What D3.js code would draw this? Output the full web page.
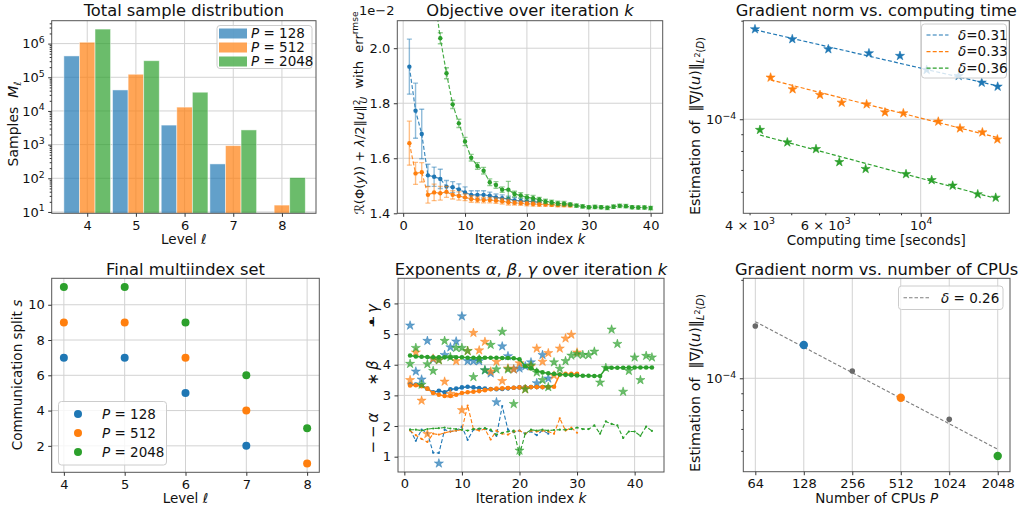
<!DOCTYPE html>
<html><head><meta charset="utf-8">
<script src="https://cdn.jsdelivr.net/npm/d3@7"></script>
<style>body{margin:0;background:#fff}svg{font-family:"DejaVu Sans",sans-serif}</style>
</head><body>
<script>
// ---------------- DATA ----------------
// Panel 1: total sample distribution
const levels = [4, 5, 6, 7, 8];
const samplesP128  = [4.3e5, 4.2e4, 3.8e3, 267, null];
const samplesP512  = [1.1e6, 1.23e5, 1.3e4, 930, 16];
const samplesP2048 = [2.7e6, 3.1e5, 3.6e4, 2730, 105];
const procLabels = ["128", "512", "2048"];

// Panel 2: objective over iteration (units of 1e-2), first k of each series
const objBlueStart = 1;
const objBlue    = [1.933,1.773,1.688,1.538,1.533,1.525,1.497,1.495,1.487,1.476,1.467,1.467,1.467,1.464,1.458,1.455,1.452,1.447,1.445,1.443,1.442,1.440];
const objBlueErr = [0.10,0.10,0.09,0.04,0.035,0.035,0.022,0.02,0.02,0.02,0.015,0.015,0.015,0.013,0.012,0.012,0.01,0.01,0.01,0.01,0.008,0.008];
const objOrangeStart = 1;
const objOrange    = [1.655,1.545,1.549,1.467,1.476,1.473,1.478,1.467,1.463,1.458,1.452,1.449,1.448,1.448,1.446,1.444,1.440,1.438,1.437,1.435,1.434,1.433,1.432,1.431,1.430,1.430,1.429];
const objOrangeErr = [0.08,0.04,0.035,0.03,0.03,0.025,0.02,0.015,0.015,0.012,0.012,0.01,0.01,0.01,0.01,0.01,0.01,0.008,0.008,0.008,0.008,0.008,0.006,0.006,0.006,0.006,0.006];
const objGreenStart = 5;
const objGreen    = [2.20,2.036,1.909,1.796,1.727,1.661,1.602,1.572,1.555,1.513,1.503,1.486,1.486,1.470,1.465,1.458,1.455,1.450,1.443,1.440,1.436,1.435,1.432,1.428,1.425,1.422,1.423,1.422,1.420,1.424,1.427,1.426,1.422,1.421,1.421,1.419];
const objGreenErr = [0.02,0.02,0.02,0.015,0.015,0.015,0.012,0.012,0.012,0.012,0.012,0.01,0.03,0.01,0.01,0.01,0.01,0.008,0.008,0.008,0.008,0.008,0.006,0.006,0.006,0.006,0.006,0.006,0.006,0.006,0.006,0.006,0.006,0.006,0.006,0.006];

// Panel 3: gradient norm vs computing time
const timeBlue   = [4118,5028,6098,7580,8950,10325,12255,13865,15100];
const gradBlue   = [1.884e-4,1.757e-4,1.637e-4,1.591e-4,1.562e-4,1.415e-4,1.356e-4,1.294e-4,1.258e-4];
const timeOrange = [4477,5037,5833,6551,7486,8259,9112,10987,12343,13913,15077];
const gradOrange = [1.341e-4,1.235e-4,1.187e-4,1.124e-4,1.111e-4,1.050e-4,1.043e-4,0.984e-4,0.938e-4,0.912e-4,0.868e-4];
const timeGreen  = [4229,4896,5709,6468,7447,9244,10605,11867,13572,14942];
const gradGreen  = [0.928e-4,0.850e-4,0.811e-4,0.740e-4,0.705e-4,0.680e-4,0.652e-4,0.627e-4,0.590e-4,0.576e-4];
const fitTimeBlue = [4118,15100],   fitGradBlue = [1.876e-4,1.264e-4];
const fitTimeOrange = [4477,15077], fitGradOrange = [1.319e-4,0.879e-4];
const fitTimeGreen = [4229,14942],  fitGradGreen = [0.895e-4,0.573e-4];
const deltaTime = ["0.31","0.33","0.36"];

// Panel 4: final multiindex set
const splitLevels128 = [4,5,6,7],     split128  = [7,7,5,2];
const splitLevels512 = [4,5,6,7,8],   split512  = [9,9,7,4,1];
const splitLevels2048 = [4,5,6,7,8],  split2048 = [11,11,9,6,3];

// Panel 5: exponents (k starts at 1)
const alphaBlue  = [1.88,1.52,1.88,1.78,1.13,1.12,1.88,1.82,1.85,1.98,1.55,1.88,1.90,1.90,1.85,1.68,2.65,1.88,1.80,1.85,1.75,1.82,1.70,1.86,1.75];
const betaBlue   = [5.28,3.78,3.52,4.78,4.18,0.78,4.32,4.57,4.76,5.58,4.12,4.12,4.12,3.82,3.72,2.78,4.60,4.28,3.85,3.88,3.95,4.08,3.40,4.32,3.55];
const gammaBlue  = [3.36,3.35,3.33,3.22,3.10,3.15,3.10,3.20,3.22,3.26,3.28,3.26,3.24,3.22,3.21,3.20,3.21,3.23,3.25,3.26,3.27,3.27,3.27,3.27,3.27];
const alphaOrange = [1.85,1.70,1.58,1.48,1.75,1.72,1.78,1.82,1.85,1.88,2.67,1.90,1.85,1.90,1.56,1.85,1.75,1.72,1.82,1.85,1.75,1.85,1.82,1.85,1.82,1.75,2.25,1.85,1.95,1.78];
const betaOrange  = [3.50,4.40,2.83,1.74,4.20,4.15,3.45,3.05,4.12,2.52,4.45,5.04,4.47,4.75,3.78,4.10,3.47,3.88,3.85,4.05,3.20,3.95,4.53,4.10,4.38,3.65,4.53,4.86,4.98,4.40];
const gammaOrange = [3.32,3.33,3.30,3.22,3.08,3.02,2.98,2.98,3.02,3.08,3.10,3.12,3.14,3.17,3.20,3.22,3.23,3.24,3.25,3.26,3.26,3.27,3.27,3.27,3.27,3.28,3.68,3.70,3.70,3.70];
const alphaGreen = [1.88,1.88,1.85,1.90,1.92,1.93,1.95,1.92,1.90,1.88,1.85,1.90,1.92,1.93,1.88,1.72,1.78,1.82,1.85,1.07,1.75,1.88,1.85,1.88,1.85,1.87,1.88,1.88,1.90,1.95,1.90,1.90,2.02,1.75,2.15,2.07,2.02,1.61,1.82,1.82,1.68,1.98,1.84];
const betaGreen  = [4.03,4.55,3.35,4.02,3.80,4.15,4.78,4.25,4.55,4.55,4.45,3.60,4.18,3.82,4.65,3.85,5.08,3.85,2.72,1.20,3.20,3.98,3.75,3.50,3.27,4.08,3.87,4.12,4.30,4.35,4.32,4.32,4.43,3.42,3.90,5.15,4.68,3.12,3.80,4.24,3.50,4.29,4.24];
const gammaGreen = [4.30,4.27,4.26,4.25,4.24,4.24,4.24,4.24,4.24,4.24,4.23,4.23,4.23,4.23,4.23,4.23,4.22,4.22,4.21,4.18,3.95,3.88,3.80,3.75,3.72,3.70,3.68,3.67,3.66,3.65,3.64,3.64,3.63,3.63,3.88,3.90,3.90,3.90,3.91,3.91,3.91,3.91,3.91];

// Panel 6: gradient norm vs CPUs
const cpus    = [64,128,256,512,1024,2048];
const gradCpu = [1.445e-4,1.264e-4,1.053e-4,0.872e-4,0.749e-4,0.5785e-4];
const fitCpuX = [64,2048], fitCpuY = [1.49e-4,0.6065e-4];
const deltaCpu = "0.26";

// ---------------- SETUP ----------------
const W = 1023, H = 512;
const NB = "\u00a0";
const svg = d3.select("body").append("svg").attr("width", W).attr("height", H);
svg.append("rect").attr("width", W).attr("height", H).attr("fill", "#fff");
const COL = ["#1f77b4", "#ff7f0e", "#2ca02c"];
const GRID = "#d2d2d2", SPINE = "#555", TXT = "#111";
const TICKFS = 13, LABFS = 13.5, TITFS = 16.3, LEGFS = 13.5;

const P1 = {l:51.7, r:316, t:20.7, b:213.3};
const P2 = {l:397.3, r:662.7, t:20.7, b:213.3};
const P3 = {l:743.3, r:1009.3, t:20.7, b:213.3};
const P4 = {l:51.7, r:319.3, t:278.3, b:472.3};
const P5 = {l:398, r:664, t:278.3, b:472};
const P6 = {l:743.3, r:1010, t:278.3, b:471.7};

function clip(box, id) {
  svg.append("clipPath").attr("id", id).append("rect")
    .attr("x", box.l).attr("y", box.t).attr("width", box.r - box.l).attr("height", box.b - box.t);
  return svg.append("g").attr("clip-path", `url(#${id})`);
}
function spines(box) {
  svg.append("rect").attr("x", box.l).attr("y", box.t).attr("width", box.r - box.l).attr("height", box.b - box.t)
    .attr("fill", "none").attr("stroke", SPINE).attr("stroke-width", 1);
}
function gridX(box, s, vals) {
  svg.append("g").selectAll("line").data(vals).join("line")
    .attr("x1", d => s(d)).attr("x2", d => s(d)).attr("y1", box.t).attr("y2", box.b)
    .attr("stroke", GRID).attr("stroke-width", 1);
}
function gridY(box, s, vals) {
  svg.append("g").selectAll("line").data(vals).join("line")
    .attr("y1", d => s(d)).attr("y2", d => s(d)).attr("x1", box.l).attr("x2", box.r)
    .attr("stroke", GRID).attr("stroke-width", 1);
}
function styleAxis(g) {
  g.select(".domain").remove();
  g.attr("font-family", "DejaVu Sans").attr("font-size", TICKFS);
  g.selectAll(".tick line").attr("stroke", "#333");
  g.selectAll(".tick text").attr("fill", TXT);
}
function axisB(box, s, vals, fmt, size = 3.5, pad = 3.5) {
  const g = svg.append("g").attr("transform", `translate(0,${box.b})`)
    .call(d3.axisBottom(s).tickValues(vals).tickSize(size).tickPadding(pad).tickFormat(() => ""));
  styleAxis(g);
  if (fmt) g.selectAll(".tick text").each(function (d) { fmt(d3.select(this), d); });
  return g;
}
function axisL(box, s, vals, fmt, size = 3.5, pad = 3.5) {
  const g = svg.append("g").attr("transform", `translate(${box.l},0)`)
    .call(d3.axisLeft(s).tickValues(vals).tickSize(size).tickPadding(pad).tickFormat(() => ""));
  styleAxis(g);
  if (fmt) g.selectAll(".tick text").each(function (d) { fmt(d3.select(this), d); });
  return g;
}
function plain(t, d) { t.text(String(d)); }
function sup(t, base, ex) {
  t.text(null);
  t.append("tspan").text(base);
  t.append("tspan").attr("dy", "-0.55em").attr("font-size", "72%").text(ex);
}
// rich text: parts = [text, style, dy, font-size, dx]
function rich(t, parts) {
  parts.forEach(p => {
    const ts = t.append("tspan").text(p[0]);
    const st = p[1] || "";
    if (st.includes("i")) ts.attr("font-style", "italic");
    if (p[2] !== undefined && p[2] !== null) ts.attr("dy", p[2]);
    if (p[3] !== undefined && p[3] !== null) ts.attr("font-size", p[3]);
    if (p[4] !== undefined && p[4] !== null) ts.attr("dx", p[4]);
  });
  return t;
}
function title(box, y, parts) {
  const t = svg.append("text").attr("x", (box.l + box.r) / 2).attr("y", y)
    .attr("text-anchor", "middle").attr("font-size", TITFS).attr("fill", TXT);
  rich(t, parts);
}
function xlabel(box, y, parts) {
  const t = svg.append("text").attr("x", (box.l + box.r) / 2).attr("y", y)
    .attr("text-anchor", "middle").attr("font-size", LABFS).attr("fill", TXT);
  rich(t, parts);
}
function ylabel(x, y, parts, fs = LABFS) {
  const t = svg.append("text").attr("transform", `translate(${x},${y}) rotate(-90)`)
    .attr("text-anchor", "middle").attr("font-size", fs).attr("fill", TXT);
  rich(t, parts);
  return t;
}
function legendBox(x, y, w, h) {
  svg.append("rect").attr("x", x).attr("y", y).attr("width", w).attr("height", h).attr("rx", 3)
    .attr("fill", "#fff").attr("fill-opacity", 0.8).attr("stroke", "#cccccc").attr("stroke-width", 1);
}
const starSym = (sz) => d3.symbol().type(d3.symbolStar).size(sz)();

// ---------------- PANEL 1 ----------------
{
  const x = d3.scaleLinear().domain([3.27, 8.70]).range([P1.l, P1.r]);
  const y = d3.scaleLog().domain([Math.pow(10, 0.96), Math.pow(10, 6.68)]).range([P1.b, P1.t]);
  const majors = [1e1, 1e2, 1e3, 1e4, 1e5, 1e6];
  gridX(P1, x, levels); gridY(P1, y, majors);
  const g = clip(P1, "c1");
  const bw = 0.32;
  [samplesP128, samplesP512, samplesP2048].forEach((arr, si) => {
    const off = (si - 1) * bw;
    g.append("g").selectAll("rect").data(levels.map((l, i) => ({l, v: arr[i]})).filter(d => d.v != null))
      .join("rect")
      .attr("x", d => x(d.l + off - bw / 2)).attr("width", x(bw) - x(0))
      .attr("y", d => y(d.v)).attr("height", d => P1.b - y(d.v))
      .attr("fill", COL[si]).attr("fill-opacity", 0.7)
      .attr("stroke", "#fff").attr("stroke-opacity", 0.6).attr("stroke-width", 0.8);
  });
  spines(P1);
  axisB(P1, x, levels, plain);
  axisL(P1, y, majors, (t, d) => sup(t, "10", String(Math.round(Math.log10(d)))));
  const minors = [];
  for (let e = 0; e <= 6; e++) for (let m = 2; m <= 9; m++) { const v = m * Math.pow(10, e); if (v > y.domain()[0] && v < y.domain()[1]) minors.push(v); }
  axisL(P1, y, minors, null, 2);
  title(P1, 15.5, [["Total sample distribution"]]);
  xlabel(P1, 243.5, [["Level "], ["ℓ", "i"]]);
  ylabel(18, 124, [["Samples" + NB + NB], ["M", "i"], ["ℓ", "i", "0.3em", "70%"]], 14);
  legendBox(217, 25.5, 95, 43);
  procLabels.forEach((p, i) => {
    const cy = 33.5 + i * 14;
    svg.append("rect").attr("x", 219).attr("y", cy - 5).attr("width", 28).attr("height", 10)
      .attr("fill", COL[i]).attr("fill-opacity", 0.7);
    const t = svg.append("text").attr("x", 251).attr("y", cy).attr("dy", "0.36em").attr("font-size", LEGFS).attr("fill", TXT);
    rich(t, [["P", "i"], [" = " + p]]);
  });
}

// ---------------- PANEL 2 ----------------
{
  const x = d3.scaleLinear().domain([-0.95, 41.95]).range([P2.l, P2.r]);
  const y = d3.scaleLinear().domain([1.4, 2.1]).range([P2.b, P2.t]);
  const xt = [0, 10, 20, 30, 40], yt = [1.4, 1.6, 1.8, 2.0];
  gridX(P2, x, xt); gridY(P2, y, yt);
  const g = clip(P2, "c2");
  const series = [[objBlue, objBlueErr, objBlueStart], [objOrange, objOrangeErr, objOrangeStart], [objGreen, objGreenErr, objGreenStart]];
  series.forEach(([vals, errs, k0], si) => {
    const pts = vals.map((v, i) => ({k: k0 + i, v, e: errs[i]}));
    const c = COL[si];
    const eb = g.append("g").attr("stroke", c).attr("stroke-opacity", 0.5).attr("stroke-width", 1.4);
    pts.forEach(p => {
      eb.append("line").attr("x1", x(p.k)).attr("x2", x(p.k)).attr("y1", y(p.v - p.e)).attr("y2", y(p.v + p.e));
      [p.v - p.e, p.v + p.e].forEach(yy => eb.append("line").attr("x1", x(p.k) - 2.5).attr("x2", x(p.k) + 2.5).attr("y1", y(yy)).attr("y2", y(yy)));
    });
    g.append("path").datum(pts).attr("d", d3.line().x(d => x(d.k)).y(d => y(d.v)))
      .attr("fill", "none").attr("stroke", c).attr("stroke-width", 1.2).attr("stroke-opacity", 0.85).attr("stroke-dasharray", "4,2.2");
    g.append("g").selectAll("circle").data(pts).join("circle")
      .attr("cx", d => x(d.k)).attr("cy", d => y(d.v)).attr("r", 2.2).attr("fill", c);
  });
  spines(P2);
  axisB(P2, x, xt, plain);
  axisL(P2, y, yt, (t, d) => t.text(d.toFixed(1)));
  svg.append("text").attr("x", 359).attr("y", 15).attr("font-size", TICKFS).attr("fill", TXT).text("1e\u22122");
  title(P2, 15.5, [["Objective over iteration "], ["k", "i"]]);
  xlabel(P2, 243.5, [["Iteration index "], ["k", "i"]]);
  ylabel(364, 113, [["ℛ(Φ("], ["y", "i"], [")) + "], ["λ", "i"], ["/2‖"], ["u", "i"], ["‖"],
    ["2", "", "-0.45em", "70%"], ["U", "i", "0.8em", "70%", "-0.45em"], [NB + NB + "with" + NB + NB + "err", "", "-0.35em"], ["rmse", "", "-0.5em", "70%"]], 13);
}

// ---------------- PANEL 3 ----------------
{
  const x = d3.scaleLog().domain([3868, 16070]).range([P3.l, P3.r]);
  const y = d3.scaleLog().domain([5.16e-5, 2.0e-4]).range([P3.b, P3.t]);
  gridX(P3, x, [1e4]); gridY(P3, y, [1e-4]);
  const g = clip(P3, "c3");
  const series = [[timeBlue, gradBlue, fitTimeBlue, fitGradBlue], [timeOrange, gradOrange, fitTimeOrange, fitGradOrange], [timeGreen, gradGreen, fitTimeGreen, fitGradGreen]];
  series.forEach(([tx, gy, ftx, fgy], si) => {
    const c = COL[si];
    g.append("g").selectAll("path").data(tx.map((t, i) => ({t, v: gy[i]}))).join("path")
      .attr("d", starSym(26)).attr("transform", d => `translate(${x(d.t)},${y(d.v)})`)
      .attr("fill", c).attr("stroke", c).attr("stroke-width", 0.6);
    g.append("path").datum(ftx.map((t, i) => ({t, v: fgy[i]})))
      .attr("d", d3.line().x(d => x(d.t)).y(d => y(d.v)))
      .attr("fill", "none").attr("stroke", c).attr("stroke-width", 1.2).attr("stroke-dasharray", "4,2.2");
  });
  spines(P3);
  axisB(P3, x, [1e4], (t) => sup(t, "10", "4"));
  axisB(P3, x, [4000, 6000], (t, d) => sup(t, (d / 1000) + " × 10", "3"), 2, 5);
  axisB(P3, x, [5000, 7000, 8000, 9000], null, 2);
  axisL(P3, y, [1e-4], (t) => sup(t, "10", "\u22124"));
  axisL(P3, y, [6e-5, 7e-5, 8e-5, 9e-5, 2e-4], null, 2);
  title(P3, 15.5, [["Gradient norm vs. computing time"]]);
  xlabel(P3, 245, [["Computing time [seconds]"]]);
  ylabel(700, 126, [["Estimation of" + NB + NB + "‖∇"], ["J", "i"], ["("], ["u", "i"], [")‖"], ["L", "i", "0.35em", "70%"], ["2", "", "-0.4em", "55%"], ["(", "", "0.4em", "70%"], ["D", "i", null, "70%"], [")", "", null, "70%"]], 14.3);
  legendBox(921.5, 24, 85, 54);
  deltaTime.forEach((dv, i) => {
    const cy = 35 + i * 16.6;
    svg.append("line").attr("x1", 926.5).attr("x2", 948.5).attr("y1", cy).attr("y2", cy)
      .attr("stroke", COL[i]).attr("stroke-width", 1.2).attr("stroke-dasharray", "4,2.2");
    const t = svg.append("text").attr("x", 958).attr("y", cy).attr("dy", "0.36em").attr("font-size", LEGFS).attr("fill", TXT);
    rich(t, [["δ", "i"], ["=" + dv]]);
  });
}

// ---------------- PANEL 4 ----------------
{
  const x = d3.scaleLinear().domain([3.8, 8.2]).range([P4.l, P4.r]);
  const y = d3.scaleLinear().domain([0.5, 11.5]).range([P4.b, P4.t]);
  const xt = [4, 5, 6, 7, 8], yt = [2, 4, 6, 8, 10];
  gridX(P4, x, xt); gridY(P4, y, yt);
  const g = clip(P4, "c4");
  [[splitLevels128, split128], [splitLevels512, split512], [splitLevels2048, split2048]].forEach(([lv, sv], si) => {
    g.append("g").selectAll("circle").data(lv.map((l, i) => ({l, s: sv[i]}))).join("circle")
      .attr("cx", d => x(d.l)).attr("cy", d => y(d.s)).attr("r", 4).attr("fill", COL[si]);
  });
  spines(P4);
  axisB(P4, x, xt, plain);
  axisL(P4, y, yt, plain);
  title(P4, 275, [["Final multiindex set"]]);
  xlabel(P4, 503, [["Level "], ["ℓ", "i"]]);
  ylabel(22, 375, [["Communication split "], ["s", "i"]]);
  legendBox(58.5, 401.5, 108, 63.5);
  procLabels.forEach((p, i) => {
    const cy = 414 + i * 19;
    svg.append("circle").attr("cx", 78).attr("cy", cy).attr("r", 4).attr("fill", COL[i]);
    const t = svg.append("text").attr("x", 102).attr("y", cy).attr("dy", "0.36em").attr("font-size", LEGFS).attr("fill", TXT);
    rich(t, [["P", "i"], [" = " + p]]);
  });
}

// ---------------- PANEL 5 ----------------
{
  const x = d3.scaleLinear().domain([-1.1, 45.1]).range([P5.l, P5.r]);
  const y = d3.scaleLinear().domain([0.5, 6.82]).range([P5.b, P5.t]);
  const xt = [0, 10, 20, 30, 40], yt = [1, 2, 3, 4, 5, 6];
  gridX(P5, x, xt); gridY(P5, y, yt);
  const g = clip(P5, "c5");
  const series = [[alphaBlue, betaBlue, gammaBlue], [alphaOrange, betaOrange, gammaOrange], [alphaGreen, betaGreen, gammaGreen]];
  const line = d3.line().x(d => x(d.k)).y(d => y(d.v));
  series.forEach(([a, b, gm], si) => {
    const c = COL[si];
    const pa = a.map((v, i) => ({k: i + 1, v}));
    g.append("path").datum(pa).attr("d", line).attr("fill", "none").attr("stroke", c)
      .attr("stroke-width", 1.1).attr("stroke-dasharray", "4,2.2");
    g.append("g").selectAll("circle").data(pa).join("circle")
      .attr("cx", d => x(d.k)).attr("cy", d => y(d.v)).attr("r", 1.1).attr("fill", c);
    g.append("g").selectAll("path").data(b.map((v, i) => ({k: i + 1, v}))).join("path")
      .attr("d", starSym(26)).attr("transform", d => `translate(${x(d.k)},${y(d.v)})`)
      .attr("fill", c).attr("fill-opacity", 0.7).attr("stroke", c).attr("stroke-opacity", 0.7).attr("stroke-width", 0.6);
    const pg = gm.map((v, i) => ({k: i + 1, v}));
    g.append("path").datum(pg).attr("d", line).attr("fill", "none").attr("stroke", c).attr("stroke-width", 1.5);
    g.append("g").selectAll("circle").data(pg).join("circle")
      .attr("cx", d => x(d.k)).attr("cy", d => y(d.v)).attr("r", 2.3).attr("fill", c);
  });
  spines(P5);
  axisB(P5, x, xt, plain);
  axisL(P5, y, yt, plain);
  title(P5, 275, [["Exponents "], ["α", "i"], [", "], ["β", "i"], [", "], ["γ", "i"], [" over iteration "], ["k", "i"]]);
  xlabel(P5, 503, [["Iteration index "], ["k", "i"]]);
  ylabel(378, 433, [["\u2212\u2009\u2212\u2009"], ["α", "i"]], 15);
  ylabel(378, 373, [["\u2217\u2009"], ["β", "i"]], 15);
  ylabel(378, 316, [["\u2212"], ["\u2022", "", null, null, "-0.72em"], ["\u2009", "", null, null, "0.1em"], ["γ", "i"]], 15);
}

// ---------------- PANEL 6 ----------------
{
  const x = d3.scaleLog().base(2).domain([53.9, 2441]).range([P6.l, P6.r]);
  const y = d3.scaleLog().domain([5.18e-5, 2.022e-4]).range([P6.b, P6.t]);
  gridX(P6, x, cpus); gridY(P6, y, [1e-4]);
  const g = clip(P6, "c6");
  g.append("path").datum(fitCpuX.map((c, i) => ({c, v: fitCpuY[i]})))
    .attr("d", d3.line().x(d => x(d.c)).y(d => y(d.v)))
    .attr("fill", "none").attr("stroke", "#7f7f7f").attr("stroke-width", 1.1).attr("stroke-dasharray", "3.5,2");
  const hi = {"128": COL[0], "512": COL[1], "2048": COL[2]};
  g.append("g").selectAll("circle").data(cpus.map((c, i) => ({c, v: gradCpu[i]}))).join("circle")
    .attr("cx", d => x(d.c)).attr("cy", d => y(d.v))
    .attr("r", d => hi[String(d.c)] ? 4.2 : 2.8)
    .attr("fill", d => hi[String(d.c)] || "#696969");
  spines(P6);
  axisB(P6, x, cpus, plain);
  axisL(P6, y, [1e-4], (t) => sup(t, "10", "\u22124"));
  axisL(P6, y, [6e-5, 7e-5, 8e-5, 9e-5, 2e-4], null, 2);
  title(P6, 275, [["Gradient norm vs. number of CPUs"]]);
  xlabel(P6, 503, [["Number of CPUs "], ["P", "i"]]);
  ylabel(700, 383, [["Estimation of" + NB + NB + "‖∇"], ["J", "i"], ["("], ["u", "i"], [")‖"], ["L", "i", "0.35em", "70%"], ["2", "", "-0.4em", "55%"], ["(", "", "0.4em", "70%"], ["D", "i", null, "70%"], [")", "", null, "70%"]], 14.3);
  legendBox(898.5, 286, 104.5, 23.5);
  svg.append("line").attr("x1", 903.5).attr("x2", 930.5).attr("y1", 297.7).attr("y2", 297.7)
    .attr("stroke", "#7f7f7f").attr("stroke-width", 1.1).attr("stroke-dasharray", "3.5,2");
  const t = svg.append("text").attr("x", 941).attr("y", 297.7).attr("dy", "0.36em").attr("font-size", LEGFS).attr("fill", TXT);
  rich(t, [["δ", "i"], [" = " + deltaCpu]]);
}
</script>
</body></html>
